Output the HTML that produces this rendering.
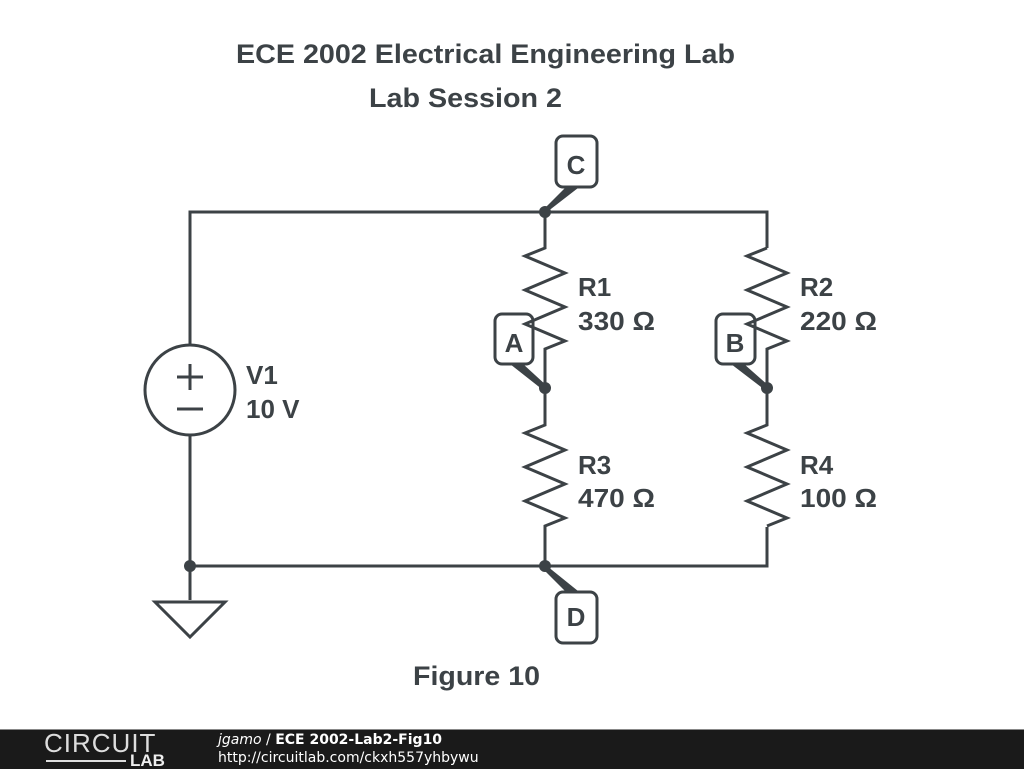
<!DOCTYPE html>
<html><head><style>
body{margin:0;width:1024px;height:768px;background:#fff;overflow:hidden;position:relative;font-family:"Liberation Sans",sans-serif}
svg{position:absolute;left:0;top:0}
.bar{position:absolute;left:0;top:729px;width:1024px;height:39px;background:#1a1a1a;border-top:1px solid #888}
</style></head><body>
<svg width="1024" height="768" viewBox="0 0 1024 768">
<g fill="none" stroke="#3c4246" stroke-width="3" stroke-linejoin="miter">
<polyline points="190,345 190,212 767,212 767,248"/>
<polyline points="190,435 190,600"/>
<polyline points="190,566 767,566 767,527"/>
<polyline points="545,212 545,248 525,256 565,273 525,290 565,307 525,324 565,341 545,349 545,425 525,433 565,450 525,467 565,484 525,501 565,518 545,526 545,566"/>
<polyline points="767,248 747,256 787,273 747,290 787,307 747,324 787,341 767,349 767,425 747,433 787,450 747,467 787,484 747,501 787,518 767,526"/>
<circle cx="190" cy="390" r="45"/>
<line x1="177" y1="377" x2="203" y2="377"/><line x1="190" y1="364" x2="190" y2="390"/>
<line x1="177" y1="409" x2="203" y2="409"/>
<polygon points="155,602 225,602 190,637"/>
<rect x="556" y="136" width="41" height="51" rx="7"/>
<rect x="495" y="314" width="38" height="50" rx="7"/>
<rect x="716" y="314" width="39" height="50" rx="7"/>
<rect x="556" y="592" width="41" height="51" rx="7"/>
</g>
<g fill="#3c4246">
<circle cx="545" cy="212" r="6"/><circle cx="545" cy="388" r="6"/><circle cx="767" cy="388" r="6"/>
<circle cx="190" cy="566" r="6"/><circle cx="545" cy="566" r="6"/>
<polygon points="565,188 578,188 547,212 543,210"/>
<polygon points="510,364 523,364 547,386 543,390"/>
<polygon points="731,364 744,364 769,386 765,390"/>
<polygon points="565,591 578,591 547,566 543,569"/>
</g>
<g fill="#3c4246" font-family="Liberation Sans,sans-serif" font-weight="bold" font-size="26">
<text x="236" y="63" font-size="27" textLength="499" lengthAdjust="spacingAndGlyphs">ECE 2002 Electrical Engineering Lab</text>
<text x="369" y="107" font-size="27" textLength="193" lengthAdjust="spacingAndGlyphs">Lab Session 2</text>
<text x="576" y="174" text-anchor="middle">C</text>
<text x="514" y="352" text-anchor="middle">A</text>
<text x="735" y="352" text-anchor="middle">B</text>
<text x="576" y="626" text-anchor="middle">D</text>
<text x="578" y="296">R1</text><text x="578" y="330" textLength="77" lengthAdjust="spacingAndGlyphs">330 Ω</text>
<text x="800" y="296">R2</text><text x="800" y="330" textLength="77" lengthAdjust="spacingAndGlyphs">220 Ω</text>
<text x="578" y="474">R3</text><text x="578" y="507" textLength="77" lengthAdjust="spacingAndGlyphs">470 Ω</text>
<text x="800" y="474">R4</text><text x="800" y="507" textLength="77" lengthAdjust="spacingAndGlyphs">100 Ω</text>
<text x="246" y="384">V1</text><text x="246" y="418">10 V</text>
<text x="413" y="685" font-size="27" textLength="127" lengthAdjust="spacingAndGlyphs">Figure 10</text>
</g>
</svg>
<div class="bar">
<div style="position:absolute;left:44px;top:0px;color:#ddd;font-size:26px;letter-spacing:1px;font-weight:300;line-height:26px">CIRCUIT</div>
<div style="position:absolute;left:130px;top:22px;color:#eee;font-size:17px;font-weight:bold;line-height:17px">LAB</div>
<div style="position:absolute;left:46px;top:30px;width:80px;height:2px;background:#ddd"></div>
<div style="position:absolute;left:218px;top:2px;color:#fff;font-family:'DejaVu Sans',sans-serif;font-size:14px"><i>jgamo</i> / <b>ECE 2002-Lab2-Fig10</b></div>
<div style="position:absolute;left:218px;top:20px;color:#fff;font-family:'DejaVu Sans',sans-serif;font-size:14px">http://circuitlab.com/ckxh557yhbywu</div>
</div>
</body></html>
